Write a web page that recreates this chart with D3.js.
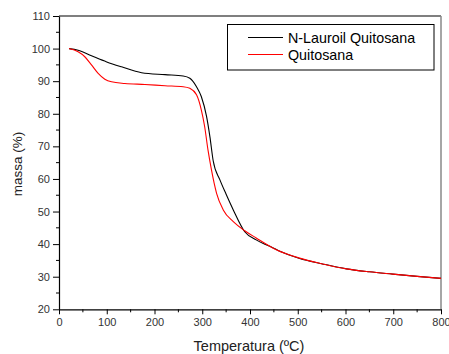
<!DOCTYPE html>
<html>
<head>
<meta charset="utf-8">
<script src="https://cdn.jsdelivr.net/npm/d3@7"></script>
<style>
  html, body { margin: 0; padding: 0; background: #fff; }
  svg { display: block; font-family: Arial, "Liberation Sans", sans-serif; }
</style>
</head>
<body>
<div id="chart"></div>
<script>
// TGA curves
const tempLauroil = [21, 40, 68, 100, 131, 173, 222, 260, 274, 288, 298, 309, 316, 323, 337, 350, 365, 389, 413, 440, 460, 504, 550, 602, 650, 699, 750, 800];
const massLauroil = [100, 99.5, 97.8, 95.9, 94.4, 92.6, 92.0, 91.6, 90.9, 88.3, 85.3, 79.2, 73.0, 65.5, 59.7, 55.3, 50.5, 43.8, 41.3, 39.4, 38.0, 35.6, 34.0, 32.4, 31.5, 30.8, 30.1, 29.5];

const tempQuito = [21, 40, 54, 68, 82, 96, 110, 138, 180, 222, 260, 274, 288, 298, 305, 312, 319, 330, 344, 365, 389, 413, 455, 504, 550, 602, 650, 699, 750, 800];
const massQuito = [100, 99, 97.5, 95, 92.4, 90.6, 89.8, 89.3, 89.0, 88.6, 88.3, 87.8, 85.8, 81.2, 76.1, 68.9, 63.0, 55.6, 50.5, 46.9, 44.1, 41.9, 38.3, 35.7, 34.0, 32.4, 31.5, 30.8, 30.1, 29.5];

const seriesNames = ['N-Lauroil Quitosana', 'Quitosana'];
const seriesColors = ['#000000', '#ff0000'];

const xTicks = [0, 100, 200, 300, 400, 500, 600, 700, 800];
const yTicks = [20, 30, 40, 50, 60, 70, 80, 90, 100, 110];

const width = 449, height = 354;
const margin = { top: 16, right: 8, bottom: 45, left: 59 };
const innerW = 441 - margin.left;
const innerH = 309.3 - margin.top;

const svg = d3.select('#chart').append('svg')
  .attr('width', width)
  .attr('height', height);

const g = svg.append('g')
  .attr('transform', `translate(${margin.left},${margin.top})`);

const x = d3.scaleLinear().domain([0, 800]).range([0, innerW]);
const y = d3.scaleLinear().domain([20, 110]).range([innerH, 0]);

// frame: top black, right gray
g.append('line')
  .attr('x1', 0).attr('x2', innerW).attr('y1', 0).attr('y2', 0)
  .attr('stroke', '#000').attr('stroke-width', 1.2);
g.append('line')
  .attr('x1', innerW).attr('x2', innerW).attr('y1', 0).attr('y2', innerH)
  .attr('stroke', '#888').attr('stroke-width', 1.5);

// minor ticks
const xMinor = d3.range(50, 800, 100);
const yMinor = d3.range(25, 110, 10);
g.append('g').selectAll('line').data(xMinor).join('line')
  .attr('x1', d => x(d)).attr('x2', d => x(d))
  .attr('y1', innerH).attr('y2', innerH + 3)
  .attr('stroke', '#000');
g.append('g').selectAll('line').data(yMinor).join('line')
  .attr('x1', -3).attr('x2', 0)
  .attr('y1', d => y(d)).attr('y2', d => y(d))
  .attr('stroke', '#000');

const xAxis = g.append('g')
  .attr('transform', `translate(0,${innerH})`)
  .call(d3.axisBottom(x).tickValues(xTicks).tickSize(5).tickPadding(4).tickSizeOuter(0));
const yAxis = g.append('g')
  .call(d3.axisLeft(y).tickValues(yTicks).tickSize(6).tickPadding(3).tickSizeOuter(0));

[xAxis, yAxis].forEach(a => {
  a.select('.domain').attr('stroke', '#000').attr('stroke-width', 1.2);
  a.selectAll('.tick line').attr('stroke', '#000');
  a.selectAll('.tick text')
    .attr('fill', '#333')
    .style('font-size', '11px')
    .style('font-family', 'Arial, "Liberation Sans", sans-serif');
});

// axis titles
svg.append('text')
  .attr('x', margin.left + x(400) - 1)
  .attr('y', 350.5)
  .attr('text-anchor', 'middle')
  .style('font-size', '14.5px')
  .attr('fill', '#222')
  .text('Temperatura (ºC)');

svg.append('text')
  .attr('transform', 'translate(22,164) rotate(-90)')
  .attr('text-anchor', 'middle')
  .style('font-size', '13.5px')
  .attr('fill', '#222')
  .text('massa (%)');

// curves
const line = d3.line()
  .x(d => x(d[0]))
  .y(d => y(d[1]))
  .curve(d3.curveMonotoneX);

const series = [
  d3.zip(tempLauroil, massLauroil),
  d3.zip(tempQuito, massQuito)
];

g.selectAll('path.curve').data(series).join('path')
  .attr('class', 'curve')
  .attr('fill', 'none')
  .attr('stroke', (d, i) => seriesColors[i])
  .attr('stroke-width', 1.1)
  .attr('d', line);

// legend
const legend = svg.append('g');
legend.append('rect')
  .attr('x', 227.5).attr('y', 24.5)
  .attr('width', 206.5).attr('height', 45.5)
  .attr('fill', '#fff').attr('stroke', '#000');

seriesNames.forEach((name, i) => {
  const ly = 37.5 + i * 17;
  legend.append('line')
    .attr('x1', 248).attr('x2', 283)
    .attr('y1', ly).attr('y2', ly)
    .attr('stroke', seriesColors[i]);
  legend.append('text')
    .attr('x', 288).attr('y', ly + 5)
    .style('font-size', '14.3px')
    .attr('fill', '#000')
    .text(name);
});
</script>
</body>
</html>
